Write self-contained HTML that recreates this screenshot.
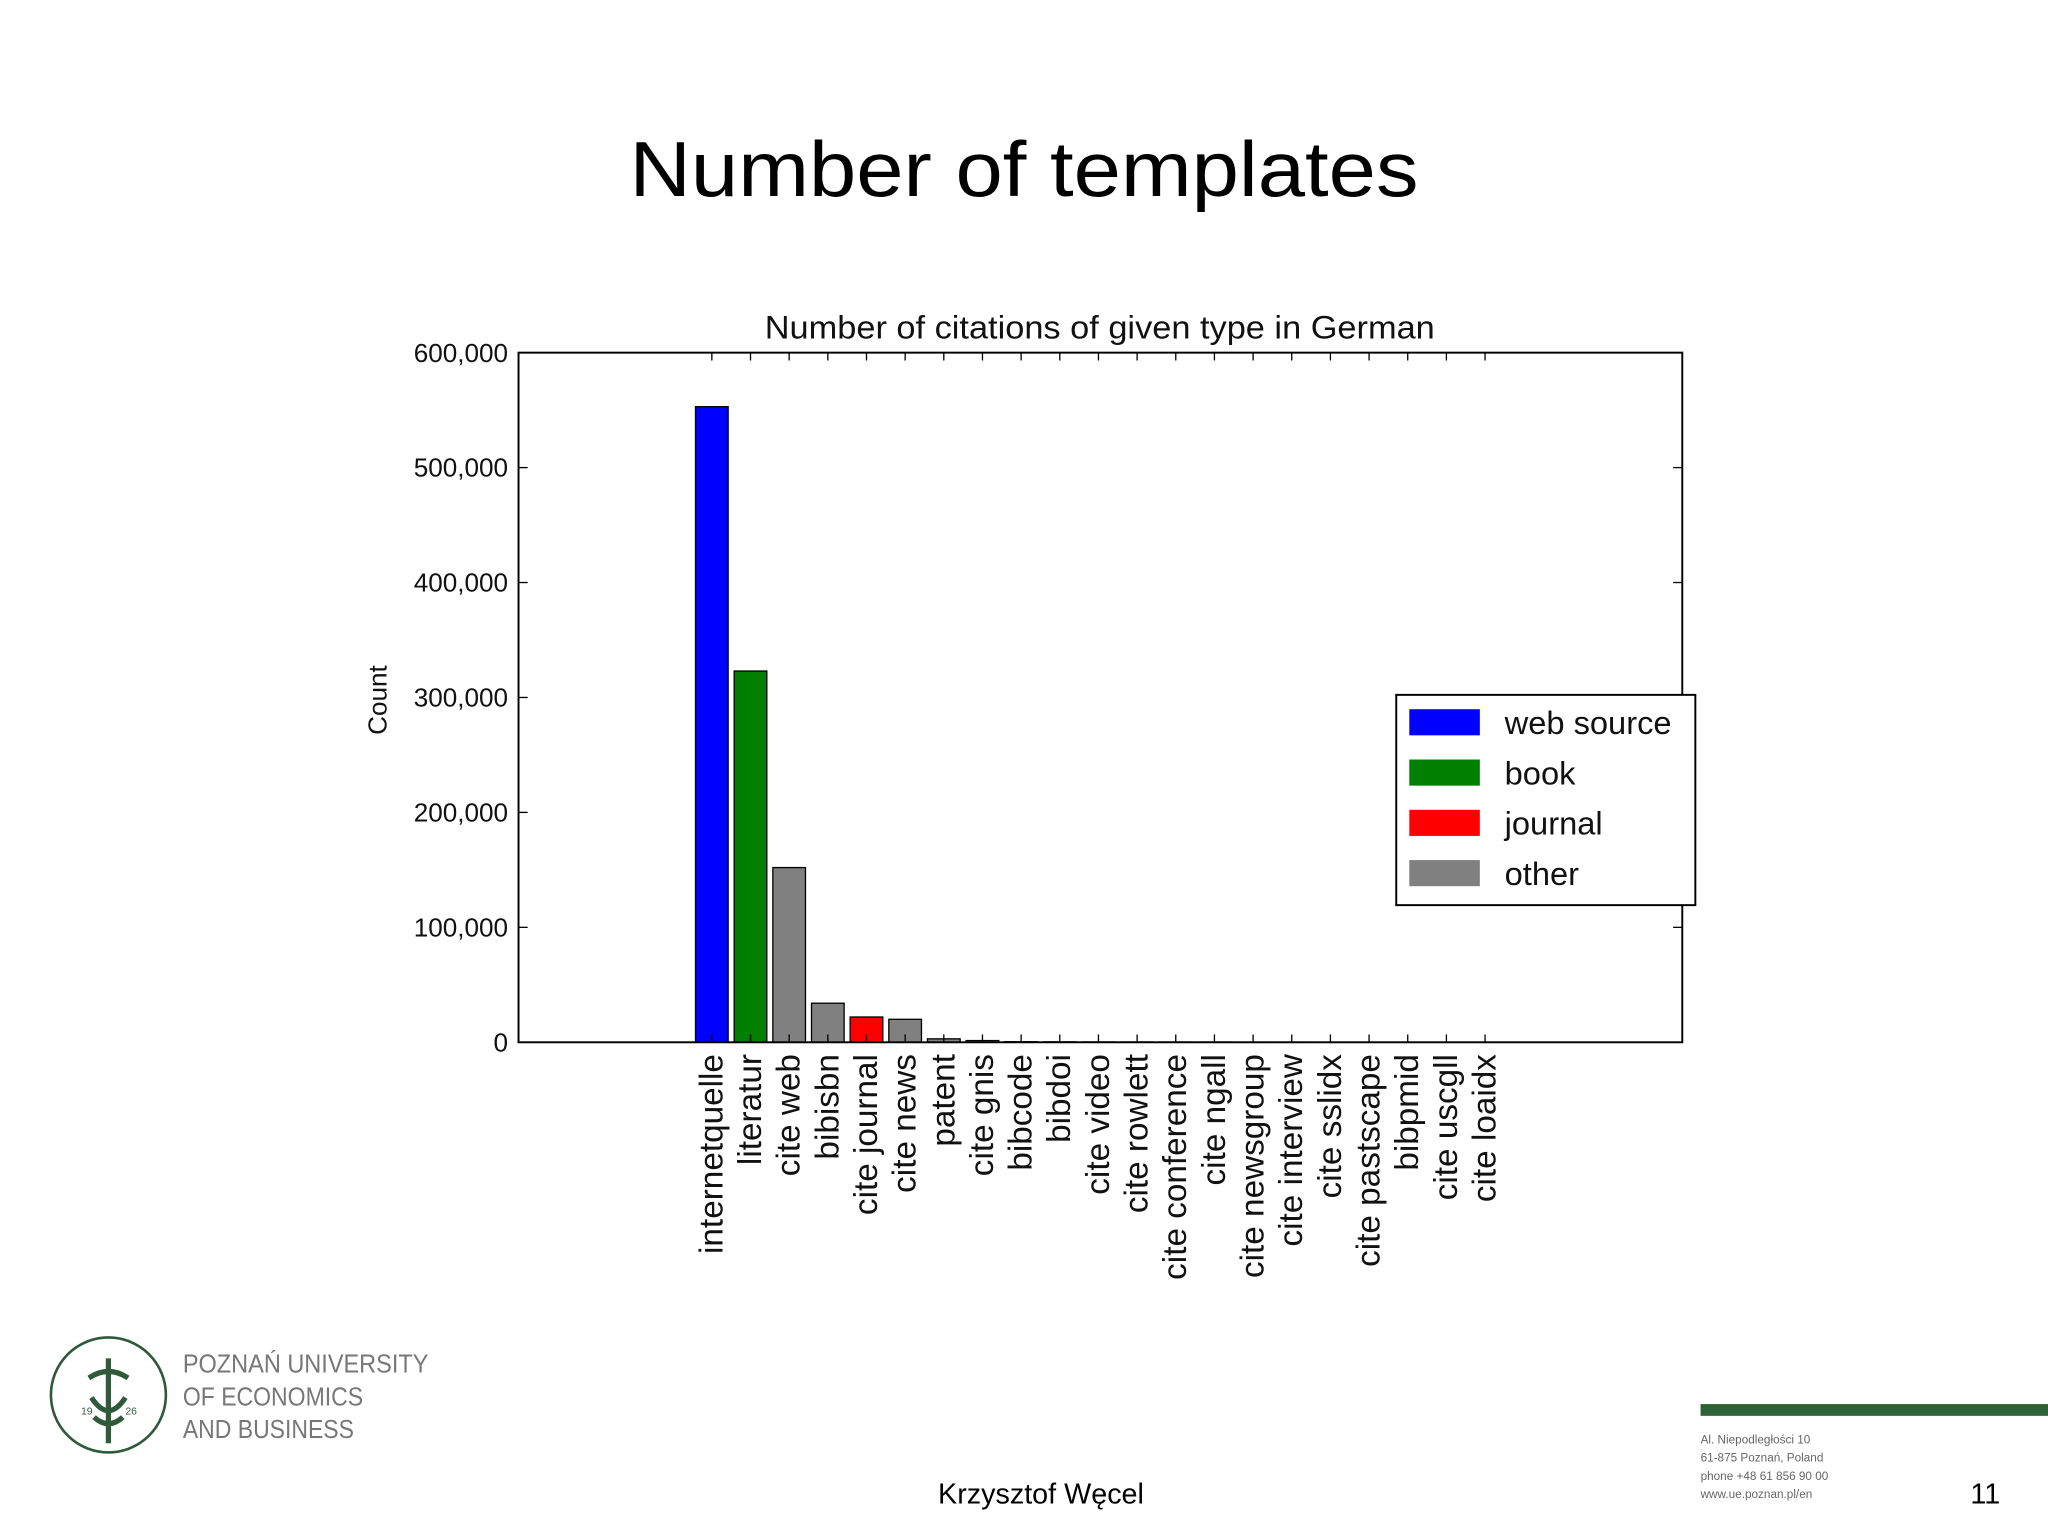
<!DOCTYPE html>
<html><head><meta charset="utf-8"><style>html,body{margin:0;padding:0;background:#fff}svg{display:block}text{font-family:"Liberation Sans",sans-serif}</style></head>
<body>
<svg id="chart" width="2048" height="1536" viewBox="0 0 1568 1176" xmlns="http://www.w3.org/2000/svg">
<rect width="1568" height="1176" fill="#fff"/>
<text x="784" y="150" font-size="60" text-anchor="middle" fill="#000" textLength="604" lengthAdjust="spacingAndGlyphs">Number of templates</text>
<text x="842" y="259" font-size="25" text-anchor="middle" fill="#111" textLength="513" lengthAdjust="spacingAndGlyphs">Number of citations of given type in German</text>
<text transform="translate(296,536) rotate(-90)" font-size="20" text-anchor="middle" fill="#111">Count</text>
<g id="plot"></g>
<rect x="397" y="270" width="891" height="528" fill="none" stroke="#000" stroke-width="1.5"/>
<g>
<rect x="1069" y="532" width="229" height="161" fill="#fff" stroke="#000" stroke-width="1.5"/>
<g id="legend-items"></g>
</g>
<g>
<circle cx="83" cy="1068" r="44" fill="none" stroke="#2e5a3a" stroke-width="2"/>
<path d="M83 1040 L83 1105 M68 1055 Q83 1045 98 1055 M70 1070 Q83 1090 96 1070 M72 1085 Q83 1095 94 1085" stroke="#2e5a3a" stroke-width="4" fill="none"/>
<text x="62" y="1083" font-size="8" fill="#2e5a3a">19</text><text x="96" y="1083" font-size="8" fill="#2e5a3a">26</text>
<text x="140" y="1051" font-size="20" fill="#777" textLength="188" lengthAdjust="spacingAndGlyphs">POZNAŃ UNIVERSITY</text>
<text x="140" y="1076" font-size="20" fill="#777" textLength="138" lengthAdjust="spacingAndGlyphs">OF ECONOMICS</text>
<text x="140" y="1101" font-size="20" fill="#777" textLength="131" lengthAdjust="spacingAndGlyphs">AND BUSINESS</text>
</g>
<rect x="1302" y="1075" width="266" height="9" fill="#2e6136"/>
<g font-size="9" fill="#666">
<text x="1302" y="1105">Al. Niepodległości 10</text>
<text x="1302" y="1119">61-875 Poznań, Poland</text>
<text x="1302" y="1133">phone +48 61 856 90 00</text>
<text x="1302" y="1147">www.ue.poznan.pl/en</text>
</g>
<text x="797" y="1151" font-size="22" text-anchor="middle" fill="#000">Krzysztof Węcel</text>
<text x="1520" y="1151" font-size="22" text-anchor="middle" fill="#000">11</text>
</svg>
<script>
const categories=["internetquelle","literatur","cite web","bibisbn","cite journal","cite news","patent","cite gnis","bibcode","bibdoi","cite video","cite rowlett","cite conference","cite ngall","cite newsgroup","cite interview","cite sslidx","cite pastscape","bibpmid","cite uscgll","cite loaidx"];
const counts=[553000,323000,152000,34000,22000,20000,3000,1500,500,400,300,250,200,200,150,150,100,100,100,80,60];
const types=["web","book","other","other","journal","other","other","other","other","other","other","other","other","other","other","other","other","other","other","other","other"];
const yTicks=[0,100000,200000,300000,400000,500000,600000];
const legendLabels=["web source","book","journal","other"];
const legendKeys=["web","book","journal","other"];
const colors={web:"#0000ff",book:"#007f00",journal:"#ff0000",other:"#808080"};
const NS="http://www.w3.org/2000/svg";
const plot=document.getElementById("plot");
const X0=397,X1=1288,Y0=798,Y1=270;
const y=v=>Y0-(v/600000)*(Y0-Y1);
const step=29.6;
const xc=i=>545+i*step;
const bw=25;
function mk(tag,attrs,parent){const e=document.createElementNS(NS,tag);for(const k in attrs)e.setAttribute(k,attrs[k]);parent.appendChild(e);return e;}
yTicks.forEach(t=>{
 const l=mk("text",{x:389,y:y(t)+7,"font-size":20,"text-anchor":"end",fill:"#111"},plot);
 
 
 l.textContent=t.toLocaleString("en-US");
 mk("line",{x1:X0,x2:X0+7,y1:y(t),y2:y(t),stroke:"#000"},plot);
 mk("line",{x1:X1-7,x2:X1,y1:y(t),y2:y(t),stroke:"#000"},plot);
});
categories.forEach((c,i)=>{
 const r=mk("rect",{x:xc(i)-bw/2,y:y(counts[i]),width:bw,height:Y0-y(counts[i]),fill:colors[types[i]],stroke:"#000","stroke-width":1},plot);
 
 
 mk("line",{x1:xc(i),x2:xc(i),y1:Y1,y2:Y1+6,stroke:"#000"},plot);
 mk("line",{x1:xc(i),x2:xc(i),y1:Y0-6,y2:Y0,stroke:"#000"},plot);
 const t=mk("text",{transform:`translate(${xc(i)+8},${Y0+9}) rotate(-90)`,"font-size":25.5,"text-anchor":"end",fill:"#111"},plot);
 
 
 t.textContent=c;
});
const lg=document.getElementById("legend-items");
legendLabels.forEach((l,i)=>{
 const yy=553+i*38.5;
 const s=mk("rect",{x:1079,y:yy-10,width:54,height:20,fill:colors[legendKeys[i]]},lg);
 
 
 const t=mk("text",{x:1152,y:yy+9,"font-size":25,fill:"#111"},lg);
 
 
 t.textContent=l;
});
</script>
</body></html>
